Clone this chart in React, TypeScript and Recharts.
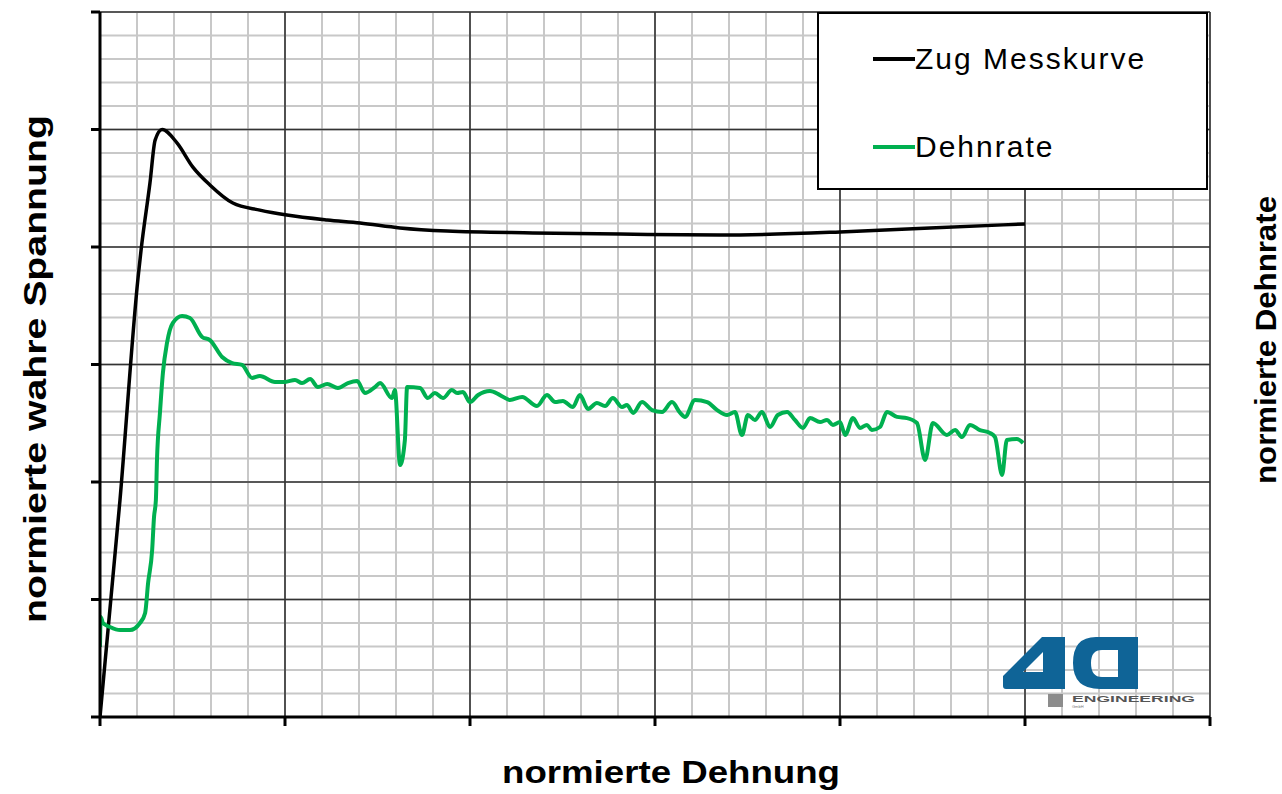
import React from "react";
import { LineChart, Line, XAxis, YAxis, CartesianGrid, Legend, Label } from "recharts";

// x = normierte Dehnung, y = normierte Spannung / Dehnrate (one unit = one minor grid cell)
const zugX = [0, 0.54, 1.03, 1.11, 1.35, 1.49, 1.68, 2.08, 2.51, 2.97, 3.59, 4.32, 5.05, 6.14, 7.03, 8.11, 9.38, 11.7, 14.05, 16.76, 20.0, 22.43, 25.0];
const zugY = [0, 9.23, 18.72, 19.87, 22.72, 24.55, 25.0, 24.43, 23.4, 22.64, 21.87, 21.57, 21.36, 21.15, 21.02, 20.81, 20.68, 20.6, 20.55, 20.51, 20.64, 20.81, 20.98];

const rateX = [
  0, 0.02, 0.08, 0.27, 0.54, 0.81, 1.08, 1.22, 1.3, 1.41,
  1.46, 1.51, 1.54, 1.62, 1.7, 1.81, 1.97, 2.22, 2.43, 2.76,
  2.97, 3.3, 3.57, 3.84, 4.11, 4.32, 4.73, 5.0, 5.27, 5.46,
  5.68, 5.89, 6.14, 6.43, 6.7, 6.95, 7.16, 7.43, 7.57, 7.89,
  7.97, 8.11, 8.24, 8.3, 8.65, 8.86, 9.05, 9.27, 9.51, 9.65,
  9.81, 10.0, 10.22, 10.54, 10.81, 11.08, 11.41, 11.81, 12.08, 12.3,
  12.51, 12.78, 12.97, 13.19, 13.43, 13.65, 13.86, 14.11, 14.24, 14.41,
  14.65, 14.92, 15.19, 15.46, 15.68, 15.81, 16.08, 16.41, 16.68, 16.95,
  17.16, 17.35, 17.51, 17.7, 17.89, 18.11, 18.32, 18.57, 18.78, 19.0,
  19.19, 19.46, 19.65, 19.81, 20.0, 20.14, 20.35, 20.54, 20.73, 20.86,
  21.08, 21.27, 21.54, 21.81, 22.08, 22.3, 22.51, 22.89, 23.11, 23.3,
  23.51, 23.78, 24.05, 24.19, 24.38, 24.51, 24.78, 24.95,
];
const rateY = [
  2.98, 4.26, 4.0, 3.83, 3.7, 3.7, 4.0, 4.43, 5.7, 7.11,
  8.51, 9.23, 10.94, 12.94, 14.64, 15.91, 16.77, 17.06, 16.98, 16.17,
  16.04, 15.32, 15.06, 14.98, 14.43, 14.51, 14.26, 14.26, 14.34, 14.21,
  14.38, 14.04, 14.17, 14.0, 14.21, 14.3, 13.79, 14.04, 14.21, 13.57,
  13.91, 10.72, 11.79, 14.04, 14.0, 13.57, 13.79, 13.57, 13.91, 13.79,
  13.83, 13.4, 13.7, 13.87, 13.7, 13.49, 13.62, 13.23, 13.7, 13.4,
  13.45, 13.19, 13.7, 13.11, 13.36, 13.23, 13.57, 13.19, 13.28, 12.94,
  13.4, 13.06, 12.98, 13.4, 12.94, 12.77, 13.49, 13.4, 13.06, 12.85,
  12.98, 12.0, 12.85, 12.64, 12.98, 12.34, 12.85, 12.98, 12.64, 12.3,
  12.72, 12.55, 12.64, 12.43, 12.55, 12.0, 12.72, 12.3, 12.43, 12.21,
  12.34, 12.98, 12.77, 12.72, 12.51, 10.94, 12.51, 12.0, 12.21, 11.91,
  12.43, 12.21, 12.09, 11.91, 10.3, 11.79, 11.83, 11.66,
];

const legendOrder = ["Zug Messkurve", "Dehnrate"];
const majorTicks = [0, 5, 10, 15, 20, 25, 30];
const majorGrid = [5, 10, 15, 20, 25];
const minorGrid = Array.from({ length: 31 }, (_, i) => i);

const zugData = zugX.map((x, i) => ({ x, y: zugY[i] }));
const rateData = rateX.map((x, i) => ({ x, y: rateY[i] }));

const FONT = "'Liberation Sans', Arial, sans-serif";

const NoTick = () => <g />;

const renderLegend = (props: any) => {
  const payload = [...(props.payload || [])].sort(
    (a: any, b: any) => legendOrder.indexOf(a.value) - legendOrder.indexOf(b.value)
  );
  return (
    <div
      style={{
        width: 391,
        height: 178,
        boxSizing: "border-box",
        border: "2px solid #000",
        background: "#fff",
        position: "relative",
        fontFamily: FONT,
      }}
    >
      {payload.map((entry: any, i: number) => (
        <div
          key={entry.value}
          style={{ position: "absolute", left: 54, top: 25 + i * 88, height: 40, display: "flex", alignItems: "center" }}
        >
          <span style={{ display: "inline-block", width: 42, height: 4, background: entry.color }} />
          <span style={{ fontSize: 30, color: "#000", lineHeight: "40px", letterSpacing: 2 }}>{entry.value}</span>
        </div>
      ))}
    </div>
  );
};

const Logo = () => (
  <svg width={1282} height={794} style={{ position: "absolute", left: 0, top: 0, pointerEvents: "none" }}>
    <path
      fillRule="evenodd"
      fill="#0f6497"
      d="M1003,676 L1042,637 L1065,637 L1065,689 L1006,689 Q1003,689 1003,686 Z M1023,672 L1043,652 L1043,672 Z"
    />
    <path
      fillRule="evenodd"
      fill="#0f6497"
      d="M1096,637 L1138,637 L1138,689 L1100,689 Q1073,689 1073,663 Q1073,637 1096,637 Z M1118,650 L1102,650 Q1091,650 1091,663 Q1091,677 1102,677 L1118,677 Z"
    />
    <rect x={1048} y={694} width={15} height={13} fill="#8c8c8c" />
    <text x={1072} y={702} fontFamily={FONT} fontSize={9} fontWeight="bold" fill="#555" textLength={123} lengthAdjust="spacingAndGlyphs">
      ENGINEERING
    </text>
    <text x={1072} y={708} fontFamily={FONT} fontSize={4} fill="#777">
      GmbH
    </text>
  </svg>
);

const gridAxisProps = {
  type: "number" as const,
  domain: [0, 30],
  axisLine: false,
  tickLine: false,
  tick: NoTick,
  allowDataOverflow: true,
};

const App = () => {
  return (
    <div style={{ position: "absolute", left: 0, top: 0, width: 1282, height: 794, background: "#fff" }}>
      <LineChart width={1282} height={794} margin={{ top: 12, right: 71, bottom: 74, left: 99 }}>
        <XAxis
          type="number"
          dataKey="x"
          domain={[0, 30]}
          ticks={majorTicks}
          height={1}
          tick={NoTick}
          tickSize={9}
          tickLine={{ stroke: "#000", strokeWidth: 3 }}
          axisLine={{ stroke: "#000", strokeWidth: 3 }}
          allowDataOverflow
        >
          <Label
            content={() => (
              <text
                x={671}
                y={783}
                textAnchor="middle"
                fontFamily={FONT}
                fontWeight="bold"
                fontSize={32}
                textLength={338}
                lengthAdjust="spacingAndGlyphs"
              >
                normierte Dehnung
              </text>
            )}
          />
        </XAxis>
        <YAxis
          type="number"
          domain={[0, 30]}
          ticks={majorTicks}
          width={1}
          tick={NoTick}
          tickSize={9}
          tickLine={{ stroke: "#000", strokeWidth: 3 }}
          axisLine={{ stroke: "#000", strokeWidth: 3 }}
          allowDataOverflow
        >
          <Label
            content={() => {
              const cx = 35;
              const cy = 369;
              return (
                <text
                  x={cx}
                  y={cy}
                  transform={`rotate(-90, ${cx}, ${cy})`}
                  textAnchor="middle"
                  dominantBaseline="central"
                  fontFamily={FONT}
                  fontWeight="bold"
                  fontSize={32}
                  textLength={508}
                  lengthAdjust="spacingAndGlyphs"
                >
                  normierte wahre Spannung
                </text>
              );
            }}
          />
        </YAxis>
        {/* invisible axes that only feed the two grids */}
        <XAxis xAxisId="minor" dataKey="x" {...gridAxisProps} ticks={minorGrid} height={1} />
        <XAxis xAxisId="major" dataKey="x" {...gridAxisProps} ticks={majorGrid} height={1} />
        <YAxis yAxisId="minor" {...gridAxisProps} ticks={minorGrid} width={0} />
        <YAxis yAxisId="major" {...gridAxisProps} ticks={majorGrid} width={0} />
        <YAxis
          yAxisId="rate"
          orientation="right"
          type="number"
          domain={[0, 30]}
          ticks={[0, 30]}
          width={1}
          tick={NoTick}
          tickSize={10}
          tickLine={{ stroke: "#c8c8c8", strokeWidth: 2 }}
          axisLine={false}
        >
          <Label
            content={() => {
              const cx = 1266;
              const cy = 340;
              return (
                <text
                  x={cx}
                  y={cy}
                  transform={`rotate(-90, ${cx}, ${cy})`}
                  textAnchor="middle"
                  dominantBaseline="central"
                  fontFamily={FONT}
                  fontWeight="bold"
                  fontSize={29}
                  textLength={288}
                  lengthAdjust="spacingAndGlyphs"
                >
                  normierte Dehnrate
                </text>
              );
            }}
          />
        </YAxis>
        <CartesianGrid xAxisId="minor" yAxisId="minor" stroke="#c8c8c8" strokeWidth={2} />
        <CartesianGrid xAxisId="major" yAxisId="major" stroke="#333" strokeWidth={1.6} />
        <Line
          name="Zug Messkurve"
          data={zugData}
          dataKey="y"
          type="monotone"
          stroke="#000"
          strokeWidth={3.5}
          dot={false}
          activeDot={false}
          isAnimationActive={false}
        />
        <Line
          name="Dehnrate"
          data={rateData}
          dataKey="y"
          type="monotone"
          stroke="#00b050"
          strokeWidth={4}
          dot={false}
          activeDot={false}
          isAnimationActive={false}
        />
        <Legend
          layout="vertical"
          align="center"
          verticalAlign="middle"
          content={renderLegend}
          wrapperStyle={{ left: 817, top: 12, width: 391, height: 178 }}
        />
      </LineChart>
      <Logo />
    </div>
  );
};

export default App;
